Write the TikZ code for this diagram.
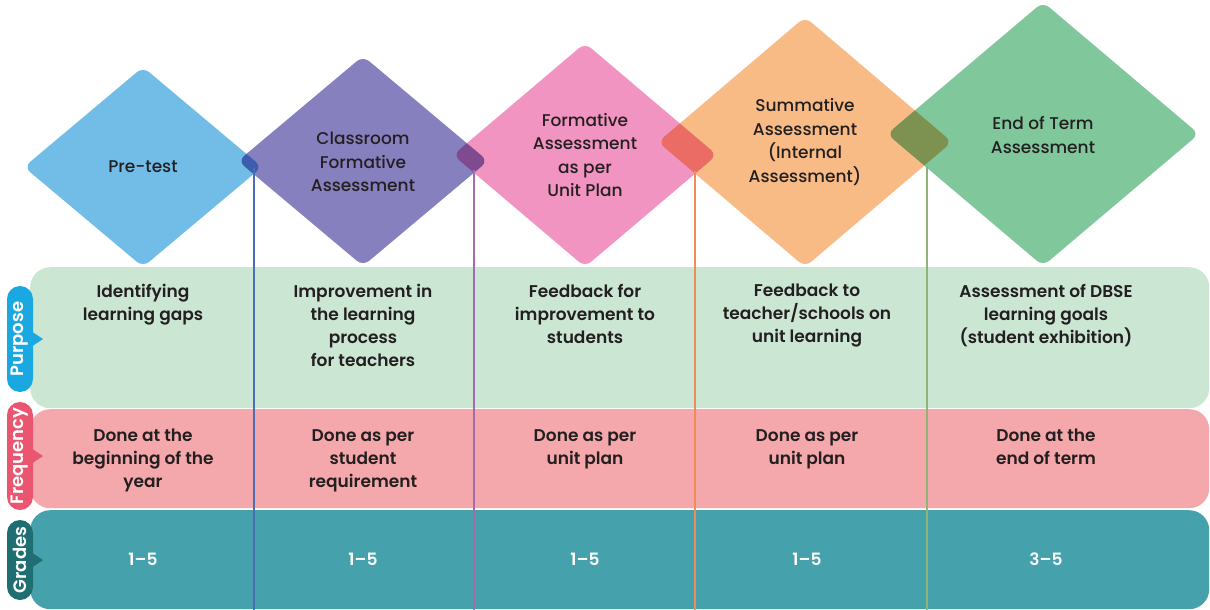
\documentclass[tikz,border=0pt]{standalone}
\usepackage{fontspec}
\setmainfont{Poppins}[BoldFont={Poppins SemiBold}]
\newfontfamily\diamondfont{Poppins Medium}

\definecolor{ink}{HTML}{231F20}
\definecolor{pretest}{HTML}{72BDE8}
\definecolor{classroom}{HTML}{8780BF}
\definecolor{formative}{HTML}{F294C2}
\definecolor{summative}{HTML}{F8BB86}
\definecolor{endterm}{HTML}{81C79C}
\definecolor{purposebg}{HTML}{CCE6D4}
\definecolor{freqbg}{HTML}{F5A8AB}
\definecolor{gradesbg}{HTML}{45A2AD}
\definecolor{purposetab}{HTML}{1AA8E2}
\definecolor{freqtab}{HTML}{EA5670}
\definecolor{gradestab}{HTML}{1E6E72}
\definecolor{lineone}{HTML}{4A6DB6}
\definecolor{linetwo}{HTML}{A66AAE}
\definecolor{linethree}{HTML}{F08C55}
\definecolor{linefour}{HTML}{90B378}

\begin{document}
\begin{tikzpicture}[x=1pt, y=-1pt,
every node/.style={inner sep=0pt, align=center},
diamondtext/.style={font=\diamondfont\fontsize{17}{23.5}\selectfont, text=ink},
rowtext/.style={font=\bfseries\fontsize{17}{23}\selectfont, text=ink, anchor=north},
gradetext/.style={font=\bfseries\fontsize{17}{23}\selectfont, text=white},
band/.style={rounded corners=20pt, minimum width=1179pt, anchor=north west},
tabbox/.style={rounded corners=13pt, rotate=90, minimum height=26pt,
    text=white, font=\bfseries\fontsize{18}{19}\selectfont},
divider/.style={line width=1.4pt}
]
\useasboundingbox (0,0) rectangle (1210,610);

% bands
\node[band, fill=purposebg, minimum height=141pt] (purpose) at (30,267) {};
\node[band, fill=freqbg, minimum height=99pt] (frequency) at (30,409) {};
\node[band, fill=gradesbg, minimum height=99pt] (grades) at (30,510) {};

% side tabs
\foreach \n/\cy/\len/\col/\txt in {
    purpose/339/106/purposetab/Purpose,
    frequency/456/108/freqtab/Frequency,
    grades/560/80/gradestab/Grades%
    }
{
    \fill[\col] (31,{\cy-8}) -- (43,\cy) -- (31,{\cy+8}) -- cycle;
    \node[tabbox, fill=\col, minimum width=\len pt] (tab\n) at (20,\cy) {\txt};
}

% diamonds
\foreach \cx/\cy/\hw/\hh/\col in {
    143/167/119/100/pretest,
    363/161/125/105/classroom,
    585/155/132/112/formative,
    805/142/147/125/summative,
    1043/134/156/132/endterm%
    }
    \fill[\col, rounded corners=8pt, blend mode=multiply]
        ({\cx-\hw},\cy) -- (\cx,{\cy-\hh}) -- ({\cx+\hw},\cy) -- (\cx,{\cy+\hh}) -- cycle;

\foreach \n/\cx/\cy/\txt in {
    1/143/167/{Pre-test},
    2/363/162/{Classroom\\Formative\\Assessment},
    3/585/155/{Formative\\Assessment\\as per\\Unit Plan},
    4/805/142/{Summative\\Assessment\\(Internal\\Assessment)},
    5/1043/135/{End of Term\\Assessment}%
    }
    \node[diamondtext] (d\n) at (\cx,\cy) {\txt};

% column texts
\foreach \n/\cx/\p/\f/\g in {
    1/143/{Identifying\\learning gaps}/{Done at the\\beginning of the\\year}/{1--5},
    2/363/{Improvement in\\the learning\\process\\for teachers}/{Done as per\\student\\requirement}/{1--5},
    3/585/{Feedback for\\improvement to\\students}/{Done as per\\unit plan}/{1--5},
    4/807/{Feedback to\\teacher/schools on\\unit learning}/{Done as per\\unit plan}/{1--5},
    5/1046/{Assessment of DBSE\\learning goals\\(student exhibition)}/{Done at the\\end of term}/{3--5}%
    }
{
    \node[rowtext] (p\n) at (\cx,284) {\p};
    \node[rowtext] (f\n) at (\cx,429) {\f};
    \node[gradetext] (g\n) at (\cx,559) {\g};
}

% dividers
\foreach \i/\x/\y/\col in {1/254/168/lineone, 2/474/170/linetwo,
                           3/695/171/linethree, 4/927/166/linefour}
{
    \coordinate (top\i) at (\x,\y);
    \coordinate (bot\i) at (\x,610);
    \draw[divider, \col] (top\i) -- (bot\i);
}

\end{tikzpicture}
\end{document}
